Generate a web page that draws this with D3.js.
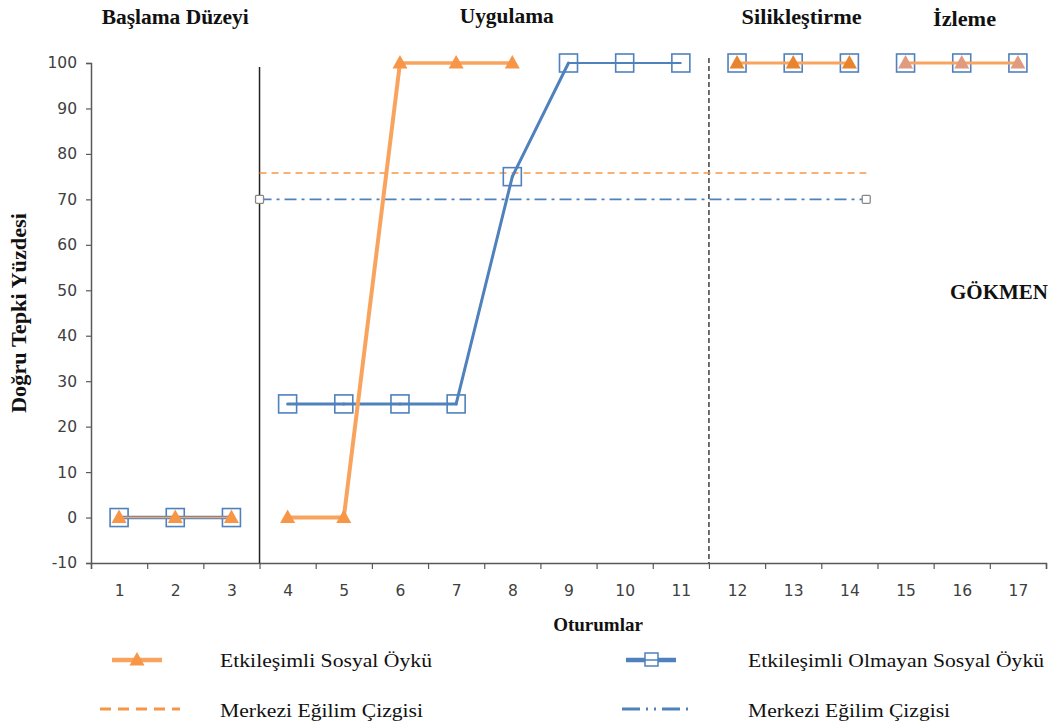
<!DOCTYPE html>
<html>
<head>
<meta charset="utf-8">
<script src="https://cdn.jsdelivr.net/npm/d3@7"></script>
<style>
  body { margin: 0; background: #fff; }
  svg { display: block; }
</style>
</head>
<body>
<svg id="chart" width="1052" height="727"></svg>
<script>
// MARK: Data.

const sessions    = [1, 2, 3, 4, 5, 6, 7, 8, 9, 10, 11, 12, 13, 14, 15, 16, 17]
const sessionPhase = [0, 0, 0, 1, 1, 1, 1, 1, 1, 1, 1, 2, 2, 2, 3, 3, 3]
const etkilesimli = [0, 0, 0, 0, 0, 100, 100, 100, null, null, null, 100, 100, 100, 100, 100, 100]
const olmayan     = [0, 0, 0, 25, 25, 25, 25, 75, 100, 100, 100, 100, 100, 100, 100, 100, 100]
const phaseNames  = ['Başlama Düzeyi', 'Uygulama', 'Silikleştirme', 'İzleme']
const yTicks      = [-10, 0, 10, 20, 30, 40, 50, 60, 70, 80, 90, 100]
const merkeziLevels = [75.8, 70]          // orange dashed, blue dash-dot
const merkeziSpan   = [3.5, 14.3]         // session range covered by the central lines
const legendLabels  = ['Etkileşimli Sosyal Öykü', 'Etkileşimli Olmayan Sosyal Öykü',
                       'Merkezi Eğilim Çizgisi', 'Merkezi Eğilim Çizgisi']

// MARK: Layout and styling.

const ORANGE      = '#f79646'
const ORANGE_LINE = '#f9a45e'
const BLUE        = '#4f81bd'
const AXIS_COLOR  = '#595959'
const SERIF       = '"Liberation Serif", "Times New Roman", serif'
const SANS        = '"DejaVu Sans", Verdana, sans-serif'

const phaseLabelAt  = [2, 7.9, 13.15, 16.05]  // where each phase title sits (session units)
const phaseLabelY   = [24, 23, 24, 26]
const phaseLabelLen = [147, 94, 120, 63]      // the original bold serif is wider than Liberation
const legendTextLen = [212, 296, 203, 202]
const phaseBreaks   = [3.5, 11.5]

const svg = d3.select('#chart')

const x = d3.scaleLinear().domain([0.5, 17.5]).range([91, 1046])
const y = d3.scaleLinear().domain([-10, 100]).range([563, 63])

const defs = svg.append('defs')
defs.append('filter').attr('id', 'blur')
  .append('feGaussianBlur').attr('stdDeviation', 1.6)

// MARK: Axes.

const yAxis = svg.append('g')
  .attr('transform', `translate(${x(0.5)},0)`)
  .call(d3.axisLeft(y).tickValues(yTicks).tickSize(5).tickPadding(9).tickFormat((d) => String(d)))
yAxis.select('.domain').attr('stroke', AXIS_COLOR).attr('stroke-width', 1.5)
yAxis.selectAll('.tick line').attr('stroke', AXIS_COLOR).attr('stroke-width', 1.2)
yAxis.selectAll('.tick text')
  .attr('font-family', SANS).attr('font-size', 15.5).attr('fill', '#404040')

const boundaries = sessions.map((s) => s - 0.5).concat([17.5])
const xAxis = svg.append('g')
  .attr('transform', `translate(0,${y(-10)})`)
  .call(d3.axisBottom(x).tickValues(boundaries).tickSize(6).tickFormat(''))
xAxis.select('.domain').attr('stroke', AXIS_COLOR).attr('stroke-width', 1.5)
xAxis.selectAll('.tick line').attr('stroke', AXIS_COLOR).attr('stroke-width', 1.2)

const xLabels = svg.append('g')
  .attr('transform', `translate(0,${y(-10)})`)
  .call(d3.axisBottom(x).tickValues(sessions).tickSize(0).tickPadding(22).tickFormat((d) => String(d)))
xLabels.select('.domain').remove()
xLabels.selectAll('.tick text')
  .attr('font-family', SANS).attr('font-size', 15.5).attr('fill', '#404040')

// MARK: Phase change lines.

svg.append('line')
  .attr('x1', x(phaseBreaks[0])).attr('x2', x(phaseBreaks[0]))
  .attr('y1', 67).attr('y2', y(-10))
  .attr('stroke', '#222').attr('stroke-width', 1.5)
svg.append('line')
  .attr('x1', x(phaseBreaks[1])).attr('x2', x(phaseBreaks[1]))
  .attr('y1', 58).attr('y2', y(-10))
  .attr('stroke', '#222').attr('stroke-width', 1.3)
  .attr('stroke-dasharray', '5,3')

// MARK: Central tendency lines (with a soft shadow, as in the original).

const merkeziStyles = [
  { color: ORANGE, dash: '7,5' },
  { color: BLUE,   dash: '12,5,3,5' },
]
merkeziLevels.forEach((level, i) => {
  svg.append('line')
    .attr('x1', x(merkeziSpan[0])).attr('x2', x(merkeziSpan[1]))
    .attr('y1', y(level) + 5).attr('y2', y(level) + 5)
    .attr('stroke', '#999').attr('stroke-width', 2).attr('opacity', 0.35)
    .attr('stroke-dasharray', merkeziStyles[i].dash)
    .attr('filter', 'url(#blur)')
  svg.append('line')
    .attr('x1', x(merkeziSpan[0])).attr('x2', x(merkeziSpan[1]))
    .attr('y1', y(level)).attr('y2', y(level))
    .attr('stroke', merkeziStyles[i].color).attr('stroke-width', 1.6)
    .attr('stroke-dasharray', merkeziStyles[i].dash)
})
svg.selectAll('rect.merkezi-end')
  .data(merkeziSpan).enter()
  .append('rect')
  .attr('class', 'merkezi-end')
  .attr('x', (d) => x(d) - 4).attr('y', y(merkeziLevels[1]) - 4)
  .attr('width', 8).attr('height', 8).attr('rx', 1)
  .attr('fill', '#fff').attr('stroke', '#888').attr('stroke-width', 1.3)

// MARK: Series lines, one segment per pair of neighbours in the same phase.

function segments(values) {
  const out = []
  for (let i = 0; i < values.length - 1; i++) {
    if (values[i] == null || values[i + 1] == null) continue
    if (sessionPhase[i] !== sessionPhase[i + 1]) continue
    out.push({ i, a: [sessions[i], values[i]], b: [sessions[i + 1], values[i + 1]] })
  }
  return out
}

const blueWidth   = (i) => sessionPhase[i] === 0 ? 3.4 : (i >= 8 && sessionPhase[i] === 1 ? 1.8 : (sessionPhase[i] === 1 ? 3 : 2))
const orangeWidth = (i) => sessionPhase[i] === 0 ? 1.6 : (sessionPhase[i] === 1 ? (i < 5 ? 4 : 3.4) : 3)

svg.append('g').selectAll('line')
  .data(segments(olmayan)).enter()
  .append('line')
  .attr('x1', (d) => x(d.a[0])).attr('y1', (d) => y(d.a[1]))
  .attr('x2', (d) => x(d.b[0])).attr('y2', (d) => y(d.b[1]))
  .attr('stroke', BLUE).attr('stroke-width', (d) => blueWidth(d.i))
  .attr('stroke-linecap', 'round')

svg.append('g').selectAll('rect')
  .data(olmayan.map((v, i) => ({ s: sessions[i], v }))).enter()
  .append('rect')
  .attr('x', (d) => x(d.s) - 9).attr('y', (d) => y(d.v) - 9)
  .attr('width', 18).attr('height', 18)
  .attr('fill', 'none').attr('stroke', BLUE).attr('stroke-width', 1.6)

svg.append('g').selectAll('line')
  .data(segments(etkilesimli)).enter()
  .append('line')
  .attr('x1', (d) => x(d.a[0])).attr('y1', (d) => y(d.a[1]))
  .attr('x2', (d) => x(d.b[0])).attr('y2', (d) => y(d.b[1]))
  .attr('stroke', ORANGE_LINE).attr('stroke-width', (d) => orangeWidth(d.i))
  .attr('stroke-linecap', 'round')

const triangle = 'M0,-8 L7.5,5.5 L-7.5,5.5 Z'
const triangleFill = ['#f79646', '#f79646', '#e8842e', '#e09a80']
svg.append('g').selectAll('path')
  .data(etkilesimli.map((v, i) => ({ s: sessions[i], v, p: sessionPhase[i] })).filter((d) => d.v != null)).enter()
  .append('path')
  .attr('d', triangle)
  .attr('transform', (d) => `translate(${x(d.s)},${y(d.v)})`)
  .attr('fill', (d) => triangleFill[d.p])

// MARK: Titles and labels.

svg.append('g').selectAll('text')
  .data(phaseNames).enter()
  .append('text')
  .attr('x', (d, i) => x(phaseLabelAt[i]))
  .attr('y', (d, i) => phaseLabelY[i])
  .attr('text-anchor', 'middle')
  .attr('font-family', SERIF).attr('font-weight', 'bold').attr('font-size', 20)
  .attr('textLength', (d, i) => phaseLabelLen[i]).attr('lengthAdjust', 'spacingAndGlyphs')
  .attr('fill', '#111')
  .text((d) => d)

svg.append('text')
  .attr('transform', `translate(26,${(y(100) + y(-10)) / 2}) rotate(-90)`)
  .attr('text-anchor', 'middle')
  .attr('font-family', SERIF).attr('font-weight', 'bold').attr('font-size', 20)
  .attr('textLength', 200).attr('lengthAdjust', 'spacingAndGlyphs')
  .attr('fill', '#111')
  .text('Doğru Tepki Yüzdesi')

svg.append('text')
  .attr('x', 598).attr('y', 631)
  .attr('text-anchor', 'middle')
  .attr('font-family', SERIF).attr('font-weight', 'bold').attr('font-size', 19)
  .attr('fill', '#111')
  .text('Oturumlar')

svg.append('text')
  .attr('x', 999).attr('y', 299)
  .attr('text-anchor', 'middle')
  .attr('font-family', SERIF).attr('font-weight', 'bold').attr('font-size', 20)
  .attr('textLength', 98).attr('lengthAdjust', 'spacingAndGlyphs')
  .attr('fill', '#111')
  .text('GÖKMEN')

// MARK: Legend.

const legend = svg.append('g')
legend.append('line').attr('x1', 112).attr('x2', 162).attr('y1', 660).attr('y2', 660)
  .attr('stroke', ORANGE_LINE).attr('stroke-width', 4.5)
legend.append('path').attr('d', triangle).attr('transform', 'translate(137,660)').attr('fill', ORANGE)

legend.append('line').attr('x1', 626).attr('x2', 676).attr('y1', 660).attr('y2', 660)
  .attr('stroke', BLUE).attr('stroke-width', 4.5)
legend.append('rect').attr('x', 645).attr('y', 653).attr('width', 13).attr('height', 13)
  .attr('fill', '#fff').attr('stroke', BLUE).attr('stroke-width', 1.5)
legend.append('line').attr('x1', 645).attr('x2', 658).attr('y1', 660).attr('y2', 660)
  .attr('stroke', BLUE).attr('stroke-width', 1.5)

legend.append('line').attr('x1', 100).attr('x2', 180).attr('y1', 713).attr('y2', 713)
  .attr('stroke', '#999').attr('stroke-width', 3).attr('opacity', 0.4).attr('filter', 'url(#blur)')
  .attr('stroke-dasharray', '11,7')
legend.append('line').attr('x1', 100).attr('x2', 180).attr('y1', 709).attr('y2', 709)
  .attr('stroke', ORANGE).attr('stroke-width', 3.2).attr('stroke-dasharray', '11,7')

legend.append('line').attr('x1', 622).attr('x2', 692).attr('y1', 713).attr('y2', 713)
  .attr('stroke', '#999').attr('stroke-width', 3).attr('opacity', 0.4).attr('filter', 'url(#blur)')
  .attr('stroke-dasharray', '18,6,2,6,2,6')
legend.append('line').attr('x1', 622).attr('x2', 692).attr('y1', 709).attr('y2', 709)
  .attr('stroke', BLUE).attr('stroke-width', 3.2).attr('stroke-dasharray', '18,6,2,6,2,6')

legend.selectAll('text')
  .data(legendLabels).enter()
  .append('text')
  .attr('x', (d, i) => i % 2 === 0 ? 220 : 748)
  .attr('y', (d, i) => i < 2 ? 667 : 717)
  .attr('font-family', SERIF).attr('font-size', 18.5).attr('fill', '#111')
  .attr('textLength', (d, i) => legendTextLen[i]).attr('lengthAdjust', 'spacingAndGlyphs')
  .text((d) => d)
</script>
</body>
</html>
